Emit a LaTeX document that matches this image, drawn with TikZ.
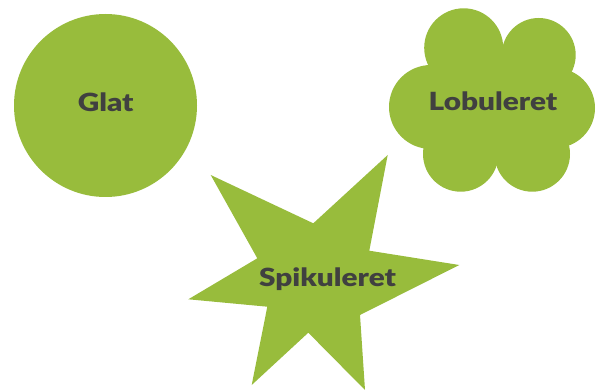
\documentclass[tikz,border=0pt]{standalone}
\usepackage{fontspec}
\newfontfamily\lblfont{Lato Black}
\definecolor{shapegreen}{RGB}{152,188,60}
\definecolor{labelgray}{RGB}{64,64,64}
\newcommand{\lbltext}[1]{\scalebox{1.19}[1]{#1}}
\begin{document}
\begin{tikzpicture}[x=1pt,y=-1pt,
  blob/.style={fill=shapegreen,draw=none},
  lbl/.style={font=\lblfont\fontsize{25}{30}\selectfont,text=labelgray,inner sep=0pt,anchor=base}]
\useasboundingbox (0,0) rectangle (597,390);
% Glat
\fill[blob] (105.5,105.5) circle (91.5);
\node[lbl] (glat) at (105.7,112) {\lbltext{Glat}};
% Lobuleret cloud
\begin{scope}
\fill[blob] (463.7,47.8) circle (39.5);
\fill[blob] (538.7,55) circle (37);
\fill[blob] (431,107) circle (42);
\fill[blob] (555,108) circle (40);
\fill[blob] (460.7,154) circle (37.7);
\fill[blob] (532.3,154) circle (37.7);
\fill[blob] (495,105) ellipse (80 and 60);
\end{scope}
\node[lbl] (lob) at (493,111) {\lbltext{Lobuleret}};
% Spikuleret star
\fill[blob] (210.7,175) -- (313.3,223.3) -- (387.7,155) -- (369.3,250.7)
  -- (459.3,265) -- (360,315) -- (365,390) -- (308.3,332.7)
  -- (251.7,385) -- (267.3,306.7) -- (188.3,299.3) -- (257.3,258.3) -- cycle;
\node[lbl] (spik) at (327.5,286) {\lbltext{Spikuleret}};
\end{tikzpicture}
\end{document}
